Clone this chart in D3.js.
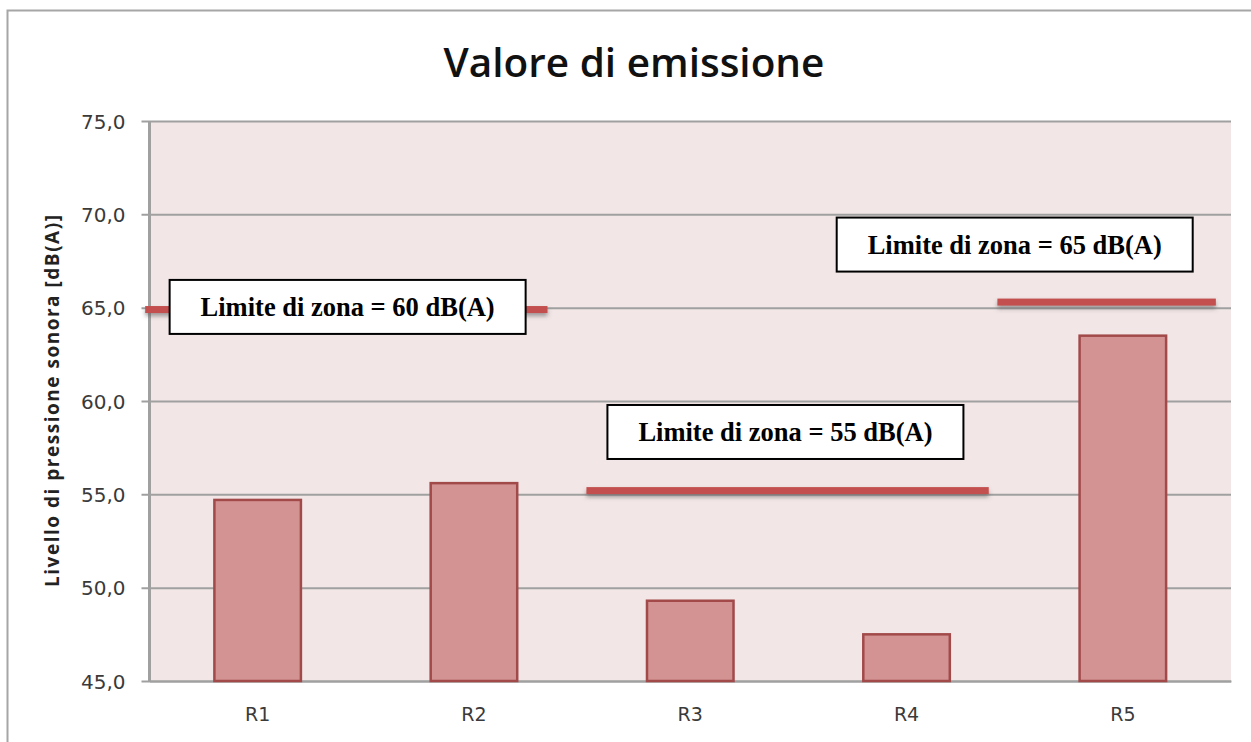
<!DOCTYPE html>
<html>
<head>
<meta charset="utf-8">
<script src="https://cdn.jsdelivr.net/npm/d3@7"></script>
<style>
  html, body { margin: 0; padding: 0; background: #ffffff; }
  svg { display: block; }
</style>
</head>
<body>
<div id="chart"></div>
<script>
// ---- data ----
const categories = ["R1", "R2", "R3", "R4", "R5"];
const values = [54.7, 55.6, 49.3, 47.5, 63.5];
const yTicks = [45, 50, 55, 60, 65, 70, 75];
const limitValues = [64.9, 55.2, 65.3];
const limitFrom = [-0.02, 2.02, 3.92];   // in category-slot units
const limitTo = [1.84, 3.88, 4.93];
const labelTexts = ["Limite di zona = 60 dB(A)", "Limite di zona = 55 dB(A)", "Limite di zona = 65 dB(A)"];
const labelX = [0.916, 2.94, 4.0];      // box centres, category-slot units
const labelY = [65.04, 58.34, 68.38];   // box centres, value units
const title = "Valore di emissione";
const yTitle = "Livello di pressione sonora [dB(A)]";

// ---- layout ----
const W = 1251, H = 742;
const plot = { left: 149.5, right: 1231, top: 121, bottom: 681 };

const svg = d3.select("#chart").append("svg").attr("width", W).attr("height", H);

const defs = svg.append("defs");
const f = defs.append("filter").attr("id", "shadow")
  .attr("filterUnits", "userSpaceOnUse")
  .attr("x", 0).attr("y", 0).attr("width", W).attr("height", H);
f.append("feDropShadow").attr("dx", 0).attr("dy", 3).attr("stdDeviation", 2)
  .attr("flood-color", "#555").attr("flood-opacity", 0.55);

// outer chart border
svg.append("rect").attr("x", 7.5).attr("y", 10.5).attr("width", 1300).attr("height", 800)
  .attr("fill", "#fff").attr("stroke", "#a6a6a6").attr("stroke-width", 2);

const x = d3.scaleBand().domain(categories).range([plot.left, plot.right]).paddingInner(0.6).paddingOuter(0.3);
const xs = d3.scaleLinear().domain([0, categories.length]).range([plot.left, plot.right]);
const y = d3.scaleLinear().domain([45, 75]).range([plot.bottom, plot.top]);

// plot background
svg.append("rect").attr("x", plot.left).attr("y", plot.top)
  .attr("width", plot.right - plot.left).attr("height", plot.bottom - plot.top)
  .attr("fill", "#f2e6e6");

// gridlines + ticks
const yAxis = d3.axisLeft(y).tickValues(yTicks).tickSize(plot.right - plot.left + 8)
  .tickFormat(d => d3.format(".1f")(d).replace(".", ","));
const gy = svg.append("g").attr("transform", `translate(${plot.right},0)`).call(yAxis);
gy.select(".domain").remove();
gy.selectAll(".tick line").attr("stroke", "#a0a0a0").attr("stroke-width", 2);
gy.selectAll(".tick text")
  .attr("x", -(plot.right - plot.left) - 24)
  .attr("dy", "0.36em")
  .attr("font-family", "DejaVu Sans, sans-serif")
  .attr("font-size", 20)
  .attr("fill", "#3a3a3a");

// y axis line
svg.append("line").attr("x1", plot.left).attr("x2", plot.left).attr("y1", plot.top).attr("y2", plot.bottom)
  .attr("stroke", "#a0a0a0").attr("stroke-width", 3);

// x axis labels
const xAxis = d3.axisBottom(x).tickSize(0).tickPadding(27);
const gx = svg.append("g").attr("transform", `translate(0,${plot.bottom})`).call(xAxis);
gx.select(".domain").attr("stroke", "#a0a0a0").attr("stroke-width", 2);
gx.selectAll(".tick text")
  .attr("font-family", "DejaVu Sans, sans-serif")
  .attr("font-size", 19)
  .attr("fill", "#3a3a3a");

// bars
svg.append("g").selectAll("rect").data(values).join("rect")
  .attr("x", (d, i) => x(categories[i]))
  .attr("y", d => y(d))
  .attr("width", x.bandwidth())
  .attr("height", d => y(45) - y(d))
  .attr("fill", "#d39392")
  .attr("stroke", "#a2494a")
  .attr("stroke-width", 2.5);

// limit lines
const lineH = 7;
svg.append("g").selectAll("rect").data(limitValues).join("rect")
  .attr("x", (d, i) => xs(limitFrom[i]))
  .attr("width", (d, i) => xs(limitTo[i]) - xs(limitFrom[i]))
  .attr("y", d => y(d) - lineH / 2)
  .attr("height", lineH)
  .attr("fill", "#c4504f")
  .attr("filter", "url(#shadow)");

// annotation boxes
const boxW = 356, boxH = 54;
const lab = svg.append("g").selectAll("g").data(labelTexts).join("g")
  .attr("transform", (d, i) => `translate(${xs(labelX[i])},${y(labelY[i])})`);
lab.append("rect")
  .attr("x", -boxW / 2).attr("y", -boxH / 2).attr("width", boxW).attr("height", boxH)
  .attr("fill", "#fff").attr("stroke", "#000").attr("stroke-width", 2);
lab.append("text")
  .attr("text-anchor", "middle").attr("dy", "0.35em")
  .attr("font-family", "Liberation Serif, Times New Roman, serif")
  .attr("font-weight", "bold").attr("font-size", 26.5)
  .attr("fill", "#000")
  .text(d => d);

// title
svg.append("text").attr("x", 634).attr("y", 77)
  .attr("text-anchor", "middle")
  .attr("font-family", "Open Sans, sans-serif")
  .attr("font-weight", 600)
  .attr("font-size", 40.5)
  .attr("fill", "#111")
  .text(title);

// y axis title
svg.append("text")
  .attr("transform", `translate(59,401) rotate(-90)`)
  .attr("text-anchor", "middle")
  .attr("font-family", "Open Sans, sans-serif")
  .attr("font-weight", "bold")
  .attr("font-size", 19)
  .attr("textLength", 372)
  .attr("lengthAdjust", "spacing")
  .attr("fill", "#222")
  .text(yTitle);
</script>
</body>
</html>
